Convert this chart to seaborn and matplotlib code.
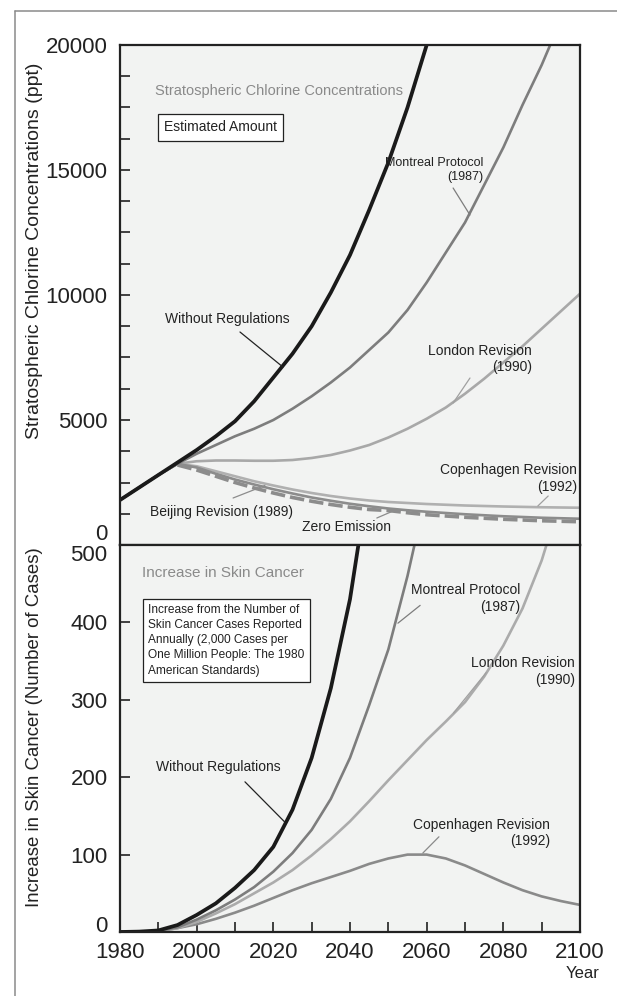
import matplotlib
matplotlib.use("Agg")
import matplotlib.pyplot as plt
import seaborn as sns
from matplotlib.lines import Line2D

# --- data ------------------------------------------------------------------
# top panel: stratospheric chlorine (ppt)
yrs_top = [1980, 1985, 1990, 1995, 2000, 2005, 2010, 2015, 2020, 2025, 2030,
           2035, 2040, 2045, 2050, 2055, 2060, 2065, 2070, 2075, 2080, 2085,
           2090, 2095, 2100]
cl_without = [1800, 2300, 2800, 3300, 3800, 4350, 4950, 5750, 6700, 7650, 8750,
              10100, 11600, 13400, 15300, 17500, 20000, 22800]
cl_montreal = [1800, 2300, 2800, 3250, 3650, 4000, 4350, 4650, 5000, 5450, 5950,
               6500, 7100, 7800, 8500, 9400, 10500, 11700, 12900, 14400, 15900,
               17600, 19200, 21000]
cl_london = [1800, 2300, 2800, 3250, 3350, 3380, 3380, 3370, 3370, 3400, 3480,
             3600, 3780, 4000, 4300, 4650, 5050, 5500, 6050, 6650, 7300, 7950,
             8650, 9350, 10050]
cl_copenhagen = [1800, 2300, 2800, 3250, 3150, 2950, 2750, 2550, 2380, 2220, 2080,
                 1960, 1860, 1780, 1720, 1680, 1640, 1610, 1580, 1560, 1540, 1525,
                 1510, 1500, 1490]
cl_beijing = [1800, 2300, 2800, 3250, 3100, 2850, 2620, 2420, 2230, 2060, 1900,
              1770, 1650, 1550, 1460, 1390, 1330, 1280, 1230, 1190, 1150, 1120,
              1090, 1070, 1050]
yrs_zero = [1995, 2000, 2005, 2010, 2015, 2020, 2025, 2030, 2035, 2040, 2045,
            2050, 2055, 2060, 2065, 2070, 2075, 2080, 2085, 2090, 2095, 2100]
cl_zero = [3200, 3000, 2750, 2500, 2280, 2080, 1900, 1750, 1620, 1510, 1420,
           1380, 1290, 1210, 1160, 1110, 1070, 1030, 1000, 970, 950, 930]

# bottom panel: increase in skin cancer (cases)
yrs_bot = yrs_top
sc_without = [0, 0.5, 2, 9, 22, 37, 57, 80, 110, 158, 225, 315, 430, 590]
sc_montreal = [0, 0.3, 1.5, 6, 16, 28, 42, 58, 78, 102, 132, 172, 225, 293, 365,
               460, 570]
sc_london = [0, 0.2, 1, 5, 13, 24, 36, 50, 64, 80, 99, 120, 143, 169, 196, 222,
             248, 272, 297, 330, 370, 418, 480, 560]
sc_copenhagen = [0, 0.2, 1, 5, 10, 17, 25, 34, 44, 54, 63, 71, 79, 88, 95, 100,
                 100, 95, 86, 75, 64, 54, 46, 40, 35]

top_ticks = [0, 5000, 10000, 15000, 20000]
bot_ticks = [0, 100, 200, 300, 400, 500]
x_ticks = [1980, 2000, 2020, 2040, 2060, 2080, 2100]

# --- style ------------------------------------------------------------------
sns.set_style("ticks")
plt.rcParams["font.family"] = ["Liberation Sans", "DejaVu Sans"]
plt.rcParams["text.color"] = "#222222"

fig = plt.figure(figsize=(6.17, 9.96), dpi=100)
ax1 = fig.add_axes([120 / 617, (996 - 545) / 996, 460 / 617, 500 / 996])
ax2 = fig.add_axes([120 / 617, (996 - 932) / 996, 460 / 617, 387 / 996])

bg = "#f2f3f2"
ink = "#222222"
for ax in (ax1, ax2):
    ax.set_facecolor(bg)
    for s in ax.spines.values():
        s.set_linewidth(1.6)
        s.set_color(ink)
    ax.set_xlim(1980, 2100)

# frame around the figure (top and left only)
fig.add_artist(Line2D([15 / 617, 1], [1 - 11 / 996, 1 - 11 / 996],
                      transform=fig.transFigure, color="#8a8a8a", lw=1.1))
fig.add_artist(Line2D([15 / 617, 15 / 617], [0, 1 - 11 / 996],
                      transform=fig.transFigure, color="#8a8a8a", lw=1.1))

# --- top panel ----------------------------------------------------------------
def n(vals):
    return yrs_top[:len(vals)]

sns.lineplot(x=yrs_top, y=cl_london, ax=ax1, color="#a8a8a8", lw=1.9)
sns.lineplot(x=yrs_top, y=cl_copenhagen, ax=ax1, color="#b0b0b0", lw=1.9)
sns.lineplot(x=yrs_top, y=cl_beijing, ax=ax1, color="#8c8c8c", lw=1.9)
zl = sns.lineplot(x=yrs_zero, y=cl_zero, ax=ax1, color="#8c8c8c", lw=2.6)
zl.lines[-1].set_dashes((4, 1.4))
sns.lineplot(x=n(cl_montreal), y=cl_montreal, ax=ax1, color="#7d7d7d", lw=1.9)
sns.lineplot(x=n(cl_without), y=cl_without, ax=ax1, color="#1a1a1a", lw=2.7)

ax1.set_ylim(0, 20000)
ax1.set_yticks(top_ticks)
ax1.set_yticks(range(0, 20001, 1250), minor=True)
ax1.set_yticklabels([f"{t}" for t in top_ticks])
ax1.tick_params(axis="x", which="both", bottom=False, labelbottom=False)
ax1.tick_params(axis="y", which="both", direction="in", length=7, width=1.2,
                color=ink, labelsize=16, pad=9, labelcolor=ink)
ax1.get_yticklabels()[0].set_va("bottom")
ax1.set_ylabel("Stratospheric Chlorine Concentrations (ppt)", fontsize=14,
               color=ink)
ax1.yaxis.set_label_coords(-0.168, 0.588)

fs = 10
ax1.text(1989.1, 18160, "Stratospheric Chlorine Concentrations", color="#8a8a8a",
         fontsize=10.5, ha="left", va="center")
ax1.text(2006.2, 16700, "Estimated Amount", fontsize=fs, ha="center", va="center",
         bbox=dict(boxstyle="square,pad=0.45", fc="white", ec=ink, lw=0.9))

def label(ax, x, y, s, xs, ys, xe, ye, c, ha="center", size=fs):
    ax.text(x, y, s, fontsize=size, ha=ha, va="center", multialignment="right",
            linespacing=1.25)
    ax.annotate("", xy=(xe, ye), xytext=(xs, ys),
                arrowprops=dict(arrowstyle="-", color=c, lw=0.9,
                                shrinkA=0, shrinkB=0))

label(ax1, 2074.7, 15000, "Montreal Protocol\n(1987)", 2066.9, 14280, 2071.3, 13200,
      "#7d7d7d", ha="right", size=9)
label(ax1, 2007.9, 9040, "Without Regulations", 2011.3, 8520, 2022.5, 7120, ink)
label(ax1, 2087.5, 7440, "London Revision\n(1990)", 2071.3, 6680, 2066.9, 5680,
      "#a0a0a0", ha="right")
label(ax1, 2099.3, 2660, "Copenhagen Revision\n(1992)", 2091.7, 1960, 2089.0, 1560,
      "#a0a0a0", ha="right")
label(ax1, 2006.5, 1320, "Beijing Revision (1989)", 2009.5, 1880, 2017.8, 2380,
      "#8c8c8c")
label(ax1, 2039.0, 720, "Zero Emission", 2047.0, 1080, 2051.7, 1390, "#8c8c8c")

# --- bottom panel -------------------------------------------------------------
sns.lineplot(x=yrs_bot, y=sc_copenhagen, ax=ax2, color="#8a8a8a", lw=1.9)
sns.lineplot(x=yrs_bot[:len(sc_london)], y=sc_london, ax=ax2, color="#ababab", lw=1.9)
sns.lineplot(x=yrs_bot[:len(sc_montreal)], y=sc_montreal, ax=ax2, color="#7d7d7d", lw=1.9)
sns.lineplot(x=yrs_bot[:len(sc_without)], y=sc_without, ax=ax2, color="#1a1a1a", lw=2.7)

ax2.set_ylim(0, 500)
ax2.set_yticks(bot_ticks)
ax2.set_xticks(x_ticks)
ax2.set_xticks(range(1980, 2101, 10), minor=True)
ax2.tick_params(axis="both", which="both", direction="in", length=7, width=1.2,
                color=ink, labelsize=16, labelcolor=ink)
ax2.tick_params(axis="y", pad=9)
ax2.tick_params(axis="x", pad=7)
ax2.get_yticklabels()[-1].set_va("top")
ax2.get_yticklabels()[0].set_va("baseline")
ax2.set_ylabel("Increase in Skin Cancer (Number of Cases)", fontsize=13.4, color=ink)
ax2.yaxis.set_label_coords(-0.168, 0.53)
ax2.set_xlabel("")
ax2.text(1.043, -0.106, "Year", transform=ax2.transAxes, fontsize=12,
         ha="right", va="center")

ax2.text(1985.7, 464, "Increase in Skin Cancer", color="#8a8a8a", fontsize=11,
         ha="left", va="center")
ax2.text(2007.7, 377,
         "Increase from the Number of\nSkin Cancer Cases Reported\n"
         "Annually (2,000 Cases per\nOne Million People: The 1980\n"
         "American Standards)",
         fontsize=8.6, ha="center", va="center", multialignment="left",
         linespacing=1.35,
         bbox=dict(boxstyle="square,pad=0.45", fc="white", ec=ink, lw=0.9))

label(ax2, 2084.4, 431, "Montreal Protocol\n(1987)", 2058.3, 422, 2052.5, 399,
      "#7d7d7d", ha="right")
label(ax2, 2005.6, 213, "Without Regulations", 2012.6, 194, 2023.0, 142, ink)
label(ax2, 2098.7, 337, "London Revision\n(1990)", 2075.5, 335, 2067.0, 283,
      "#a0a0a0", ha="right")
label(ax2, 2092.2, 128, "Copenhagen Revision\n(1992)", 2063.2, 123, 2059.0, 102,
      "#8a8a8a", ha="right")

fig.savefig("out.png", dpi=100)
